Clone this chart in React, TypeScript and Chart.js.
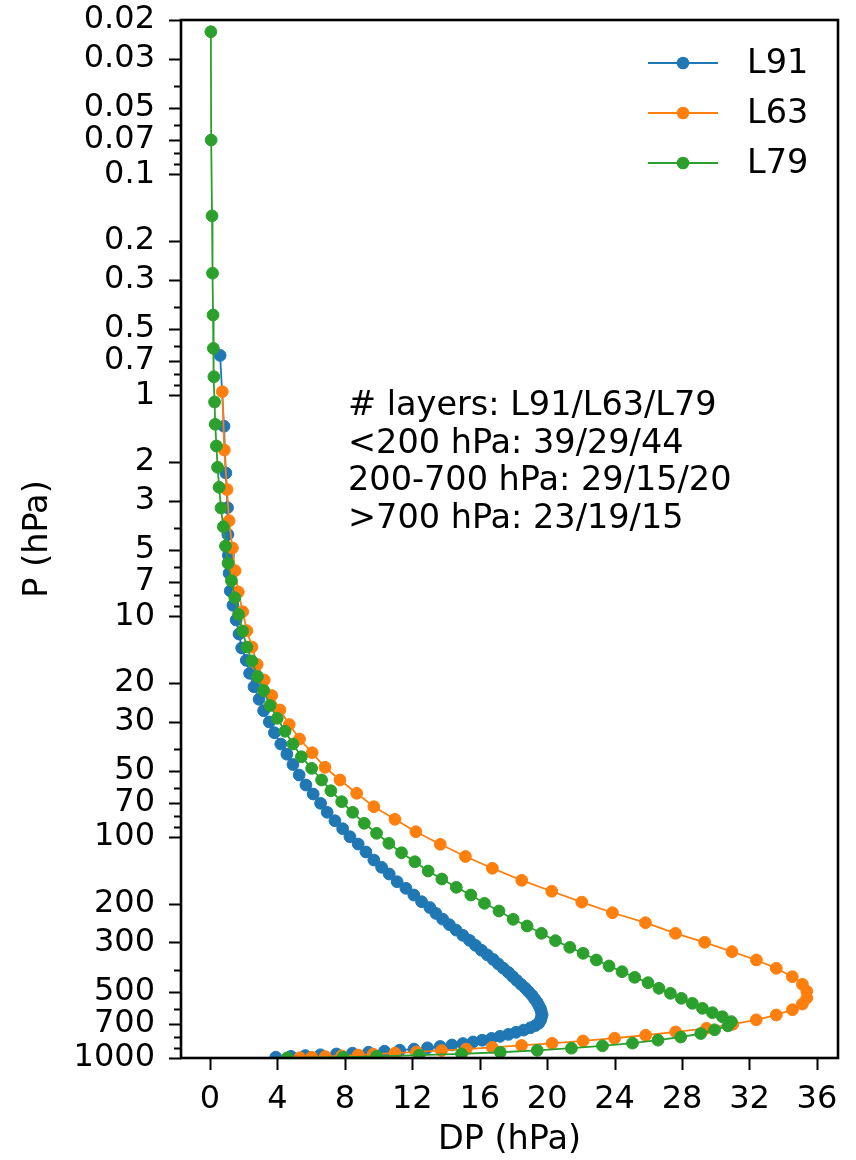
import React, { useEffect, useRef } from "react";
import { Chart, registerables } from "chart.js";

Chart.register(...registerables);

// ---------------- data ----------------
const seriesNames = ["L91", "L63", "L79"];
const seriesColors = ["#1f77b4", "#ff7f0e", "#2ca02c"];

const l91P = [
  0.660, 1.381, 2.248, 3.227, 4.267, 5.295, 6.395, 7.674, 8.927, 10.40,
  12.04, 13.93, 15.84, 18.14, 20.86, 23.78, 26.78, 30.13, 33.69, 37.90,
  42.15, 46.93, 52.36, 58.11, 63.82, 70.31, 77.22, 84.32, 91.62, 99.59,
  107.5, 116.8, 127.0, 137.0, 146.9, 159.2, 170.5, 182.9, 196.1,
  208.4, 221.6, 235.2, 249.2, 263.6, 278.4, 293.6, 309.2, 325.1, 341.4,
  358.0, 375.0, 392.2, 409.8, 427.6, 445.7, 464.0, 482.6, 501.4, 520.4,
  539.5, 558.9, 578.3, 597.9, 617.5, 637.2, 656.8, 676.5, 696.0,
  713, 730, 748, 765, 782, 798, 815, 831, 846, 860,
  873, 887, 899, 911, 922, 932, 942, 951, 959, 967,
  975, 983, 992,
];
const l91DP = [
  0.60, 0.83, 0.94, 1.04, 1.06, 1.09, 1.13, 1.20, 1.36, 1.55,
  1.72, 1.88, 2.15, 2.35, 2.61, 2.91, 3.18, 3.52, 3.82, 4.20,
  4.56, 4.92, 5.29, 5.69, 6.12, 6.56, 6.95, 7.41, 7.87, 8.30,
  8.79, 9.25, 9.72, 10.18, 10.63, 11.10, 11.62, 12.09, 12.55,
  13.04, 13.40, 13.80, 14.20, 14.60, 15.00, 15.40, 15.75, 16.10, 16.45,
  16.80, 17.10, 17.40, 17.70, 17.95, 18.20, 18.45, 18.70, 18.90, 19.10,
  19.25, 19.40, 19.50, 19.60, 19.65, 19.70, 19.65, 19.60, 19.50,
  19.30, 19.00, 18.60, 18.15, 17.70, 17.20, 16.70, 16.15, 15.60, 15.00,
  14.35, 13.65, 12.90, 12.10, 11.25, 10.35, 9.40, 8.45, 7.50, 6.55,
  5.65, 4.80, 3.90,
];

const l63P = [
  0.963, 1.768, 2.670, 3.696, 4.913, 6.223, 7.77, 9.54, 11.63, 13.79,
  16.54, 19.45, 22.86, 26.59, 30.93, 35.97, 41.50, 48.31, 55.14, 63.35,
  72.84, 83.07, 94.53, 107.8, 122.4, 138.4, 156.9, 175.8, 197.1, 220.0,
  244.1, 272.6, 299.4, 330.2, 360.0, 392.6, 428.5, 463.8, 499.0, 534.4,
  569.7, 604.6, 638.6, 671.6, 703.3, 733.6, 762.1, 788.8, 813.7, 836.8,
  858.0, 877.4, 895.0, 911.0, 925.4, 938.4, 950.0, 960.4, 969.6, 977.9,
  985.2, 991.7, 997.3,
];
const l63DP = [
  0.73, 0.85, 1.01, 1.13, 1.33, 1.49, 1.68, 1.94, 2.19, 2.49,
  2.80, 3.22, 3.66, 4.15, 4.70, 5.31, 6.06, 6.82, 7.71, 8.70,
  9.72, 10.97, 12.21, 13.66, 15.15, 16.75, 18.49, 20.27, 22.05, 23.87,
  25.83, 27.61, 29.34, 30.96, 32.41, 33.59, 34.54, 35.14, 35.40, 35.40,
  35.14, 34.55, 33.59, 32.40, 31.01, 29.45, 27.62, 25.84, 24.00, 22.13,
  20.29, 18.48, 16.74, 15.20, 13.73, 12.25, 10.97, 9.68, 8.79, 7.81,
  6.84, 6.03, 5.33,
];

const l79P = [
  0.0226, 0.0699, 0.154, 0.280, 0.433, 0.613, 0.824, 1.072, 1.353, 1.696,
  2.118, 2.609, 3.237, 3.934, 4.811, 5.761, 6.908, 8.247, 9.824, 11.67,
  13.79, 15.95, 18.75, 21.70, 25.37, 28.99, 33.19, 37.90, 43.27, 48.83,
  55.14, 61.66, 69.15, 77.22, 86.59, 96.11, 106.7, 117.7, 129.3, 142.4,
  154.8, 168.8, 182.9, 199.4, 216.0, 235.6, 252.6, 272.6, 294.4, 315.4,
  335.7, 360.0, 383.2, 406.7, 431.2, 456.1, 483.6, 509.5, 536.8, 565.5,
  595.7, 623.6, 650.2, 684.2,
  715.0, 745.3, 774.9, 803.4, 830.6, 856.4, 880.6, 903.0, 923.4, 941.7,
  957.8, 971.4, 982.6, 991.5, 997.7,
];
const l79DP = [
  0.05, 0.07, 0.12, 0.15, 0.18, 0.20, 0.23, 0.27, 0.31, 0.38,
  0.45, 0.54, 0.65, 0.79, 0.92, 1.07, 1.27, 1.47, 1.69, 1.93,
  2.19, 2.49, 2.82, 3.18, 3.56, 3.99, 4.45, 4.92, 5.42, 6.03,
  6.62, 7.17, 7.81, 8.46, 9.15, 9.88, 10.61, 11.36, 12.15, 12.94,
  13.75, 14.61, 15.47, 16.28, 17.14, 17.98, 18.81, 19.66, 20.49, 21.34,
  22.13, 22.92, 23.67, 24.44, 25.19, 25.98, 26.63, 27.31, 27.96, 28.61,
  29.21, 29.80, 30.39, 30.92,
  30.72, 29.93, 29.11, 27.92, 26.57, 25.06, 23.28, 21.44, 19.41, 17.22,
  14.92, 12.41, 9.88, 7.90, 4.58,
];

const xTicks = [0, 4, 8, 12, 16, 20, 24, 28, 32, 36];
const yMajorTicks = [
  0.02, 0.03, 0.05, 0.07, 0.1, 0.2, 0.3, 0.5, 0.7, 1, 2, 3, 5, 7, 10,
  20, 30, 50, 70, 100, 200, 300, 500, 700, 1000,
];
const yTickLabels = [
  "0.02", "0.03", "0.05", "0.07", "0.1", "0.2", "0.3", "0.5", "0.7", "1",
  "2", "3", "5", "7", "10", "20", "30", "50", "70", "100", "200", "300",
  "500", "700", "1000",
];
const yMinorTicks = [
  0.04, 0.06, 0.08, 0.09, 0.4, 0.6, 0.8, 0.9, 4, 6, 8, 9, 40, 60, 80, 90,
  400, 600, 800, 900,
];

const xTitle = "DP (hPa)";
const yTitle = "P (hPa)";
const noteLines = [
  "# layers: L91/L63/L79",
  "<200 hPa: 39/29/44",
  "200-700 hPa: 29/15/20",
  ">700 hPa: 23/19/15",
];

const FONT = "DejaVu Sans";
const TEXT_SIZE = 33.5;

const decorPlugin = {
  id: "decor",
  afterDraw(chart: any) {
    const { ctx, chartArea } = chart;
    const xs = chart.scales.x;
    const ys = chart.scales.y;
    const { left, right, top, bottom } = chartArea;
    ctx.save();
    ctx.strokeStyle = "#000";
    ctx.fillStyle = "#000";
    // ticks
    ctx.lineWidth = 2;
    ctx.beginPath();
    yMajorTicks.forEach((v) => {
      const py = Math.round(ys.getPixelForValue(v)) + 0.5;
      ctx.moveTo(left - 12, py);
      ctx.lineTo(left, py);
    });
    yMinorTicks.forEach((v) => {
      const py = Math.round(ys.getPixelForValue(v)) + 0.5;
      ctx.moveTo(left - 7, py);
      ctx.lineTo(left, py);
    });
    xTicks.forEach((v) => {
      const px = Math.round(xs.getPixelForValue(v)) + 0.5;
      ctx.moveTo(px, bottom);
      ctx.lineTo(px, bottom + 12);
    });
    ctx.stroke();
    // spines
    ctx.lineWidth = 2.6;
    ctx.strokeRect(left, top, right - left, bottom - top);

    // axis titles
    ctx.font = `${TEXT_SIZE}px "${FONT}"`;
    ctx.textAlign = "center";
    ctx.textBaseline = "middle";
    ctx.fillText(xTitle, (left + right) / 2, 1140);
    ctx.save();
    ctx.translate(38, (top + bottom) / 2);
    ctx.rotate(-Math.PI / 2);
    ctx.fillText(yTitle, 0, 0);
    ctx.restore();

    // legend
    const rows = [63, 113, 163];
    seriesNames.forEach((name, i) => {
      const y = rows[i];
      ctx.strokeStyle = seriesColors[i];
      ctx.lineWidth = 1.8;
      ctx.beginPath();
      ctx.moveTo(648, y);
      ctx.lineTo(718, y);
      ctx.stroke();
      ctx.fillStyle = seriesColors[i];
      ctx.beginPath();
      ctx.arc(683, y, 6.3, 0, Math.PI * 2);
      ctx.fill();
      ctx.fillStyle = "#000";
      ctx.textAlign = "left";
      ctx.textBaseline = "middle";
      ctx.fillText(name, 747, y + 1);
    });

    // annotation
    ctx.textAlign = "left";
    ctx.textBaseline = "alphabetic";
    const baselines = [415, 452.5, 490, 528];
    noteLines.forEach((t, i) => ctx.fillText(t, 348, baselines[i]));
    ctx.restore();
  },
};

function makeData(P: number[], DP: number[]) {
  return P.map((p, i) => ({ x: DP[i], y: p }));
}

export default function App() {
  const ref = useRef<HTMLCanvasElement>(null);
  useEffect(() => {
    if (!ref.current) return;
    Chart.defaults.font.family = FONT;
    const ds = [
      [l91P, l91DP],
      [l63P, l63DP],
      [l79P, l79DP],
    ].map(([P, DP], i) => ({
      label: seriesNames[i],
      data: makeData(P as number[], DP as number[]),
      showLine: true,
      borderColor: seriesColors[i],
      backgroundColor: seriesColors[i],
      borderWidth: 1.8,
      pointRadius: 5.9,
      pointBorderWidth: 1,
      pointBorderColor: seriesColors[i],
      pointBackgroundColor: seriesColors[i],
      order: 3 - i,
      tension: 0,
    }));
    const chart = new Chart(ref.current, {
      type: "scatter",
      data: { datasets: ds as any },
      options: {
        animation: false,
        responsive: false,
        devicePixelRatio: 1,
        layout: { padding: { top: 20, right: 18, left: 0, bottom: 0 } },
        plugins: {
          legend: { display: false },
          tooltip: { enabled: false },
        },
        scales: {
          x: {
            type: "linear",
            min: -1.72,
            max: 37.25,
            afterBuildTicks: (s: any) => {
              s.ticks = xTicks.map((v) => ({ value: v }));
            },
            afterFit: (s: any) => {
              s.height = 102;
              s.paddingLeft = 0;
              s.paddingRight = 0;
            },
            ticks: {
              padding: 14,
              color: "#000",
              font: { size: 32, family: FONT },
              maxRotation: 0,
              autoSkip: false,
              callback: (v: any) => String(v),
            },
            grid: { display: false },
            border: { display: false },
          },
          y: {
            type: "logarithmic",
            reverse: true,
            min: 0.02,
            max: 1000,
            afterBuildTicks: (s: any) => {
              s.ticks = yMajorTicks.map((v) => ({ value: v }));
            },
            afterFit: (s: any) => {
              s.width = 181;
              s.paddingTop = 0;
              s.paddingBottom = 0;
            },
            ticks: {
              padding: 18,
              color: "#000",
              font: { size: 32, family: FONT },
              autoSkip: false,
              callback: (_v: any, i: number) => yTickLabels[i],
            },
            grid: { display: false },
            border: { display: false },
          },
        },
      },
      plugins: [decorPlugin],
    });
    return () => chart.destroy();
  }, []);
  return (
    <div style={{ position: "absolute", left: 0, top: 0, width: 856, height: 1160, background: "#fff" }}>
      <canvas ref={ref} width={856} height={1160} style={{ display: "block", width: 856, height: 1160 }} />
    </div>
  );
}
